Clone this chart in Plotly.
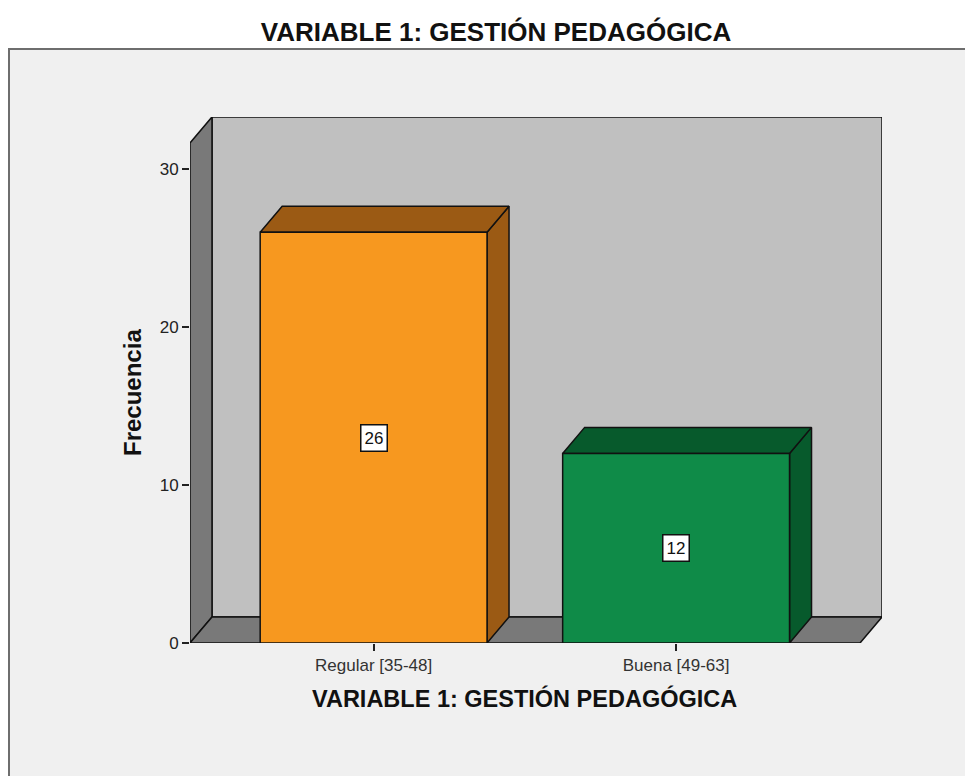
import plotly.graph_objects as go

# ---- data ----
categories = ["Regular [35-48]", "Buena [49-63]"]
frequencies = [26, 12]
front_colors = ["#F7981F", "#0F8B48"]
dark_colors = ["#9B5A14", "#075A2C"]

title_text = "VARIABLE 1: GESTIÓN PEDAGÓGICA"
x_title = "VARIABLE 1: GESTIÓN PEDAGÓGICA"
y_title = "Frecuencia"
y_ticks = [0, 10, 20, 30]

# ---- geometry (style parameters) ----
OFF = 8                        # page body margin
W, H = 973 - OFF, 776 - OFF
ML, MR, MT, MB = 190 - OFF, 91, 117 - OFF, 133
XL, XR = -0.607, 1.608        # front floor extent (x units)
YTOP = 31.65                  # front wall top (y units)
DX, DY = 0.0727, 1.646        # 3D depth offset
HALF = 0.375                  # bar half width
OUT = "#111111"
LW = 1.5
FONT = "Liberation Sans, Arial"

fig = go.Figure()


def poly(xs, ys, fill):
    fig.add_trace(go.Scatter(
        x=list(xs) + [xs[0]], y=list(ys) + [ys[0]], mode="lines",
        fill="toself", fillcolor=fill, line=dict(color=OUT, width=LW),
        hoverinfo="skip", showlegend=False))


# back wall
poly([XL + DX, XR + DX, XR + DX, XL + DX], [DY, DY, YTOP + DY, YTOP + DY], "#C0C0C0")
# left wall
poly([XL, XL, XL + DX, XL + DX], [0, YTOP, YTOP + DY, DY], "#797979")
# floor
poly([XL, XR, XR + DX, XL + DX], [0, 0, DY, DY], "#797979")

# bars
for i, (cat, v) in enumerate(zip(categories, frequencies)):
    l, r = i - HALF, i + HALF
    poly([r, r, r + DX, r + DX], [0, v, v + DY, DY], dark_colors[i])       # side
    poly([l, r, r + DX, l + DX], [v, v, v + DY, v + DY], dark_colors[i])   # top
    poly([l, r, r, l], [0, 0, v, v], front_colors[i])                      # front
    fig.add_annotation(x=i, y=v / 2, xref="x", yref="y", text=str(v),
                       showarrow=False, bgcolor="white", bordercolor="#111111",
                       borderwidth=1.5, borderpad=3,
                       font=dict(family=FONT, size=17, color="#111111"))

pw = W - ML - MR
ph = H - MT - MB


def px_x(p):
    return (p - OFF - ML) / pw


def px_y(p):
    return (H - MB - (p - OFF)) / ph


# outer frame
fig.add_shape(type="rect", xref="paper", yref="paper",
              x0=px_x(9), x1=px_x(990), y0=px_y(800), y1=px_y(49),
              fillcolor="#F0F0F0", line=dict(color="#6E6E6E", width=2), layer="below")

# axis titles
fig.add_annotation(x=0.5, xref="x", y=px_y(698), yref="paper", text="<b>" + x_title + "</b>",
                   showarrow=False, xanchor="center", yanchor="middle",
                   font=dict(family=FONT, size=23.5, color="#111111"))
fig.add_annotation(x=px_x(132), xref="paper", y=px_y(393), yref="paper",
                   text="<b>" + y_title + "</b>", textangle=-90, showarrow=False,
                   xanchor="center", yanchor="middle",
                   font=dict(family=FONT, size=24, color="#111111"))

fig.update_layout(
    width=W, height=H,
    margin=dict(l=ML, r=MR, t=MT, b=MB, pad=0),
    paper_bgcolor="white", plot_bgcolor="rgba(0,0,0,0)",
    title=dict(text="<b>" + title_text + "</b>", x=(496 - OFF) / W, xref="container",
               xanchor="center", y=1 - (32 - OFF) / H, yref="container", yanchor="middle",
               font=dict(family=FONT, size=26, color="#111111")),
    xaxis=dict(range=[XL, XR + DX], tickvals=list(range(len(categories))), ticktext=categories,
               ticks="outside", ticklen=7, tickwidth=1.5, tickcolor="#222222",
               showgrid=False, zeroline=False, showline=False, fixedrange=True,
               tickfont=dict(family=FONT, size=17, color="#333333")),
    yaxis=dict(range=[0, (H - MB - MT) / 15.8], tickvals=y_ticks,
               ticks="outside", ticklen=7, tickwidth=1.5, tickcolor="#222222",
               showgrid=False, zeroline=False, showline=False, fixedrange=True,
               tickfont=dict(family=FONT, size=17, color="#222222")),
    showlegend=False,
)

fig.write_html("out.html")
